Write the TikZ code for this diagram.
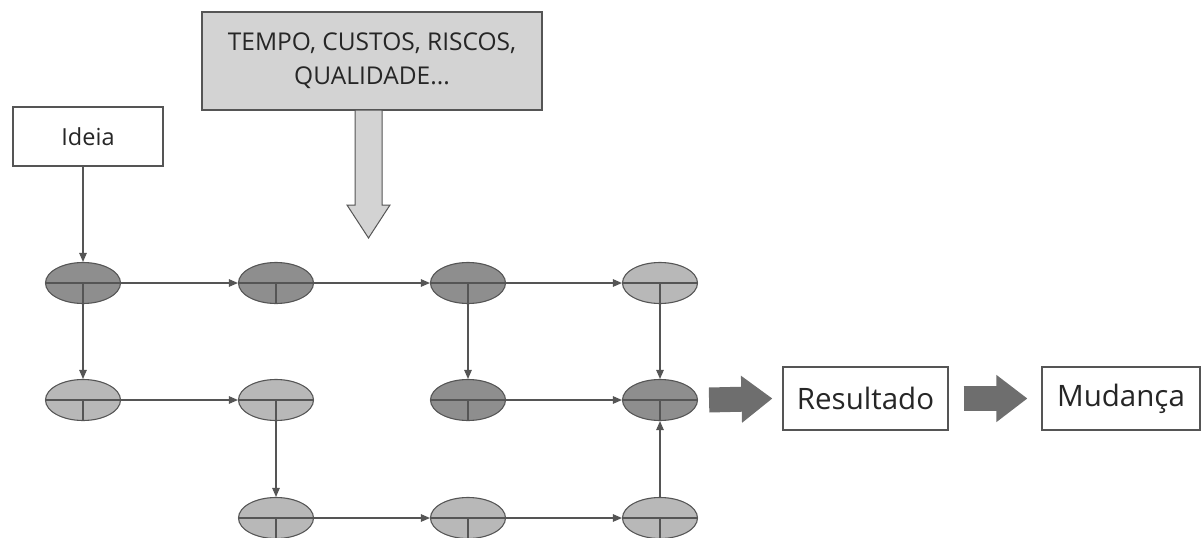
\documentclass[tikz,border=0pt]{standalone}
\usepackage{fontspec}
\setmainfont{Open Sans}
\usetikzlibrary{arrows.meta,shapes.geometric}
\definecolor{linegray}{HTML}{555555}
\definecolor{darkfill}{HTML}{8E8E8E}
\definecolor{lightfill}{HTML}{B8B8B8}
\definecolor{boxfill}{HTML}{D3D3D3}
\definecolor{arrowfill}{HTML}{6E6E6E}
\definecolor{textgray}{HTML}{262626}

\tikzset{
  etapa/.style={ellipse, draw=linegray, line width=1.1pt, minimum width=75pt,
    minimum height=41pt, inner sep=0pt,
    path picture={\draw[linegray,line width=1.1pt]
      (path picture bounding box.west) -- (path picture bounding box.east)
      (path picture bounding box.center) -- (path picture bounding box.south);}},
  escura/.style={etapa, fill=darkfill},
  clara/.style={etapa, fill=lightfill},
  caixa/.style={draw=linegray, line width=1.1pt, fill=white, text=textgray, inner sep=0pt},
  liga/.style={draw=linegray, line width=1.1pt, -{Triangle[length=9pt,width=7.5pt]}},
  setagrossa/.style={draw=arrowfill, line width=25pt,
    -{Triangle[length=31pt,width=45pt]}},
}

\begin{document}
\begin{tikzpicture}[x=1pt,y=-1pt]
\useasboundingbox (0,0) rectangle (1203,538);
% caixas
\node[caixa, minimum width=150pt, minimum height=59pt,
  font=\fontsize{23.5}{28}\selectfont] (ideia) at (88,136.5) {Ideia};
\node[caixa, fill=boxfill, minimum width=340pt, minimum height=98pt, align=center,
  font=\fontsize{24.5}{34}\selectfont] (fatores) at (372,61)
  {TEMPO, CUSTOS, RISCOS,\\QUALIDADE...};
\node[caixa, minimum width=165pt, minimum height=63pt,
  font=\fontsize{29.5}{34}\selectfont] (resultado) at (865.5,398.5) {Resultado};
\node[caixa, minimum width=158pt, minimum height=63pt,
  font=\fontsize{29.5}{34}\selectfont] (mudanca) at (1121,398.5) {Mudança};
% etapas
\node[escura] (e11) at (83,283) {};
\node[escura] (e12) at (276,283) {};
\node[escura] (e13) at (468,283) {};
\node[clara] (e14) at (660,283) {};
\node[clara] (e21) at (83,400) {};
\node[clara] (e22) at (276,400) {};
\node[escura] (e23) at (468,400) {};
\node[escura] (e24) at (660,400) {};
\node[clara] (e32) at (276,518) {};
\node[clara] (e33) at (468,518) {};
\node[clara] (e34) at (660,518) {};
% ligacoes
\draw[liga] (e11 |- ideia.south) -- (e11.north);
\draw[liga] (e11) -- (e12);
\draw[liga] (e12) -- (e13);
\draw[liga] (e13) -- (e14);
\draw[liga] (e11) -- (e21);
\draw[liga] (e21) -- (e22);
\draw[liga] (e22) -- (e32);
\draw[liga] (e32) -- (e33);
\draw[liga] (e33) -- (e34);
\draw[liga] (e34) -- (e24);
\draw[liga] (e13) -- (e23);
\draw[liga] (e23) -- (e24);
\draw[liga] (e14) -- (e24);
% setas grossas
\path[draw=linegray, line width=1pt, fill=boxfill] (355,110) -- (382,110) -- (382,205)
  -- (390,205) -- (368.5,238) -- (347,205) -- (355,205) -- cycle;
\draw[setagrossa] ([xshift=11pt]e24.east) -- ([xshift=-10pt]resultado.west);
\draw[setagrossa] ([xshift=15pt]resultado.east) -- ([xshift=-14pt]mudanca.west);
\end{tikzpicture}
\end{document}
